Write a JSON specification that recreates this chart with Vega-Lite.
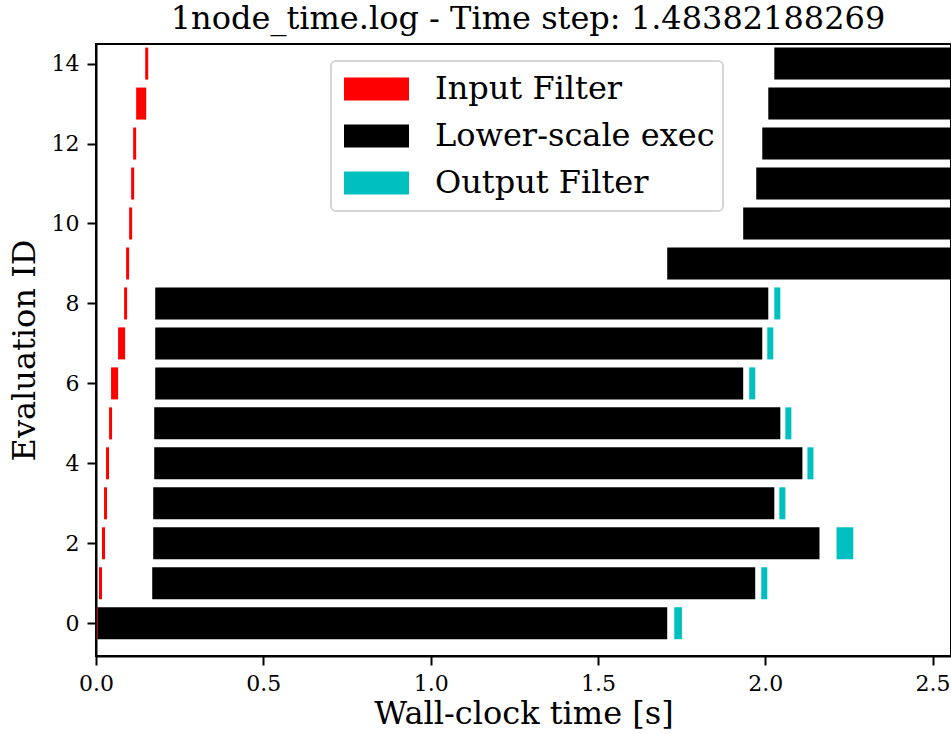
{
  "$schema": "https://vega.github.io/schema/vega-lite/v6.json",
  "autosize": {"type": "none"},
  "padding": {"left": 96, "top": 44, "right": 0, "bottom": 78},
  "width": 855,
  "height": 612,
  "background": "white",
  "title": {
    "text": "1node_time.log - Time step: 1.48382188269",
    "font": "DejaVu Serif",
    "fontSize": 32,
    "fontWeight": "normal",
    "color": "black",
    "anchor": "middle",
    "dx": 4.5,
    "offset": 8
  },
  "config": {
    "view": {"stroke": "black", "strokeWidth": 2},
    "axis": {
      "grid": false,
      "domainColor": "black",
      "domainWidth": 2,
      "tickColor": "black",
      "tickWidth": 2,
      "tickSize": 9,
      "labelPadding": 8,
      "labelFlush": false,
      "labelOverlap": false,
      "labelFont": "DejaVu Serif",
      "labelFontSize": 22,
      "labelColor": "black",
      "titleFont": "DejaVu Serif",
      "titleFontSize": 32,
      "titleFontWeight": "normal",
      "titleColor": "black"
    }
  },
  "data": {
    "values": [
      {"id": 0, "phase": "Input Filter", "start": 0.002, "end": 0.005},
      {"id": 0, "phase": "Lower-scale exec", "start": 0.005, "end": 1.707},
      {"id": 0, "phase": "Output Filter", "start": 1.728, "end": 1.751},
      {"id": 1, "phase": "Input Filter", "start": 0.009, "end": 0.018},
      {"id": 1, "phase": "Lower-scale exec", "start": 0.168, "end": 1.970},
      {"id": 1, "phase": "Output Filter", "start": 1.988, "end": 2.006},
      {"id": 2, "phase": "Input Filter", "start": 0.018, "end": 0.027},
      {"id": 2, "phase": "Lower-scale exec", "start": 0.171, "end": 2.162},
      {"id": 2, "phase": "Output Filter", "start": 2.213, "end": 2.263},
      {"id": 3, "phase": "Input Filter", "start": 0.024, "end": 0.033},
      {"id": 3, "phase": "Lower-scale exec", "start": 0.171, "end": 2.027},
      {"id": 3, "phase": "Output Filter", "start": 2.042, "end": 2.060},
      {"id": 4, "phase": "Input Filter", "start": 0.030, "end": 0.039},
      {"id": 4, "phase": "Lower-scale exec", "start": 0.174, "end": 2.111},
      {"id": 4, "phase": "Output Filter", "start": 2.126, "end": 2.144},
      {"id": 5, "phase": "Input Filter", "start": 0.039, "end": 0.048},
      {"id": 5, "phase": "Lower-scale exec", "start": 0.174, "end": 2.045},
      {"id": 5, "phase": "Output Filter", "start": 2.060, "end": 2.078},
      {"id": 6, "phase": "Input Filter", "start": 0.045, "end": 0.066},
      {"id": 6, "phase": "Lower-scale exec", "start": 0.177, "end": 1.934},
      {"id": 6, "phase": "Output Filter", "start": 1.952, "end": 1.970},
      {"id": 7, "phase": "Input Filter", "start": 0.066, "end": 0.087},
      {"id": 7, "phase": "Lower-scale exec", "start": 0.177, "end": 1.991},
      {"id": 7, "phase": "Output Filter", "start": 2.006, "end": 2.024},
      {"id": 8, "phase": "Input Filter", "start": 0.084, "end": 0.093},
      {"id": 8, "phase": "Lower-scale exec", "start": 0.177, "end": 2.009},
      {"id": 8, "phase": "Output Filter", "start": 2.027, "end": 2.045},
      {"id": 9, "phase": "Input Filter", "start": 0.090, "end": 0.099},
      {"id": 9, "phase": "Lower-scale exec", "start": 1.707, "end": 3.6},
      {"id": 10, "phase": "Input Filter", "start": 0.099, "end": 0.108},
      {"id": 10, "phase": "Lower-scale exec", "start": 1.934, "end": 3.8},
      {"id": 11, "phase": "Input Filter", "start": 0.105, "end": 0.114},
      {"id": 11, "phase": "Lower-scale exec", "start": 1.973, "end": 3.9},
      {"id": 12, "phase": "Input Filter", "start": 0.111, "end": 0.120},
      {"id": 12, "phase": "Lower-scale exec", "start": 1.991, "end": 3.95},
      {"id": 13, "phase": "Input Filter", "start": 0.120, "end": 0.150},
      {"id": 13, "phase": "Lower-scale exec", "start": 2.009, "end": 4.0},
      {"id": 14, "phase": "Input Filter", "start": 0.147, "end": 0.156},
      {"id": 14, "phase": "Lower-scale exec", "start": 2.027, "end": 4.1}
    ]
  },
  "mark": {"type": "bar", "size": 32, "clip": true},
  "encoding": {
    "x": {
      "field": "start",
      "type": "quantitative",
      "scale": {"domain": [0, 2.555], "nice": false, "zero": false, "padding": 0},
      "axis": {"values": [0, 0.5, 1, 1.5, 2, 2.5], "format": ".1f", "title": "Wall-clock time [s]", "titlePadding": 4}
    },
    "x2": {"field": "end"},
    "y": {
      "field": "id",
      "type": "quantitative",
      "scale": {"domain": [-0.82, 14.49], "nice": false, "zero": false, "padding": 0},
      "axis": {"values": [0, 2, 4, 6, 8, 10, 12, 14], "format": "d", "title": "Evaluation ID", "titlePadding": 10}
    },
    "color": {
      "field": "phase",
      "type": "nominal",
      "scale": {
        "domain": ["Input Filter", "Lower-scale exec", "Output Filter"],
        "range": ["#ff0000", "#000000", "#00bfbf"]
      },
      "legend": {
        "orient": "none",
        "legendX": 235,
        "legendY": 17,
        "title": null,
        "fillColor": "white",
        "strokeColor": "#d5d5d5",
        "cornerRadius": 5,
        "padding": 8,
        "clipHeight": 40,
        "symbolType": "M-1,-0.354H1V0.354H-1Z",
        "symbolSize": 4225,
        "symbolOffset": 5,
        "symbolStrokeWidth": 0,
        "symbolOpacity": 1,
        "labelFont": "DejaVu Serif",
        "labelFontSize": 32,
        "labelLimit": 500,
        "labelColor": "black",
        "labelOffset": 26,
        "rowPadding": 7,
        "encode": {"legend": {"update": {"strokeWidth": {"value": 2}}}}
      }
    }
  }
}
